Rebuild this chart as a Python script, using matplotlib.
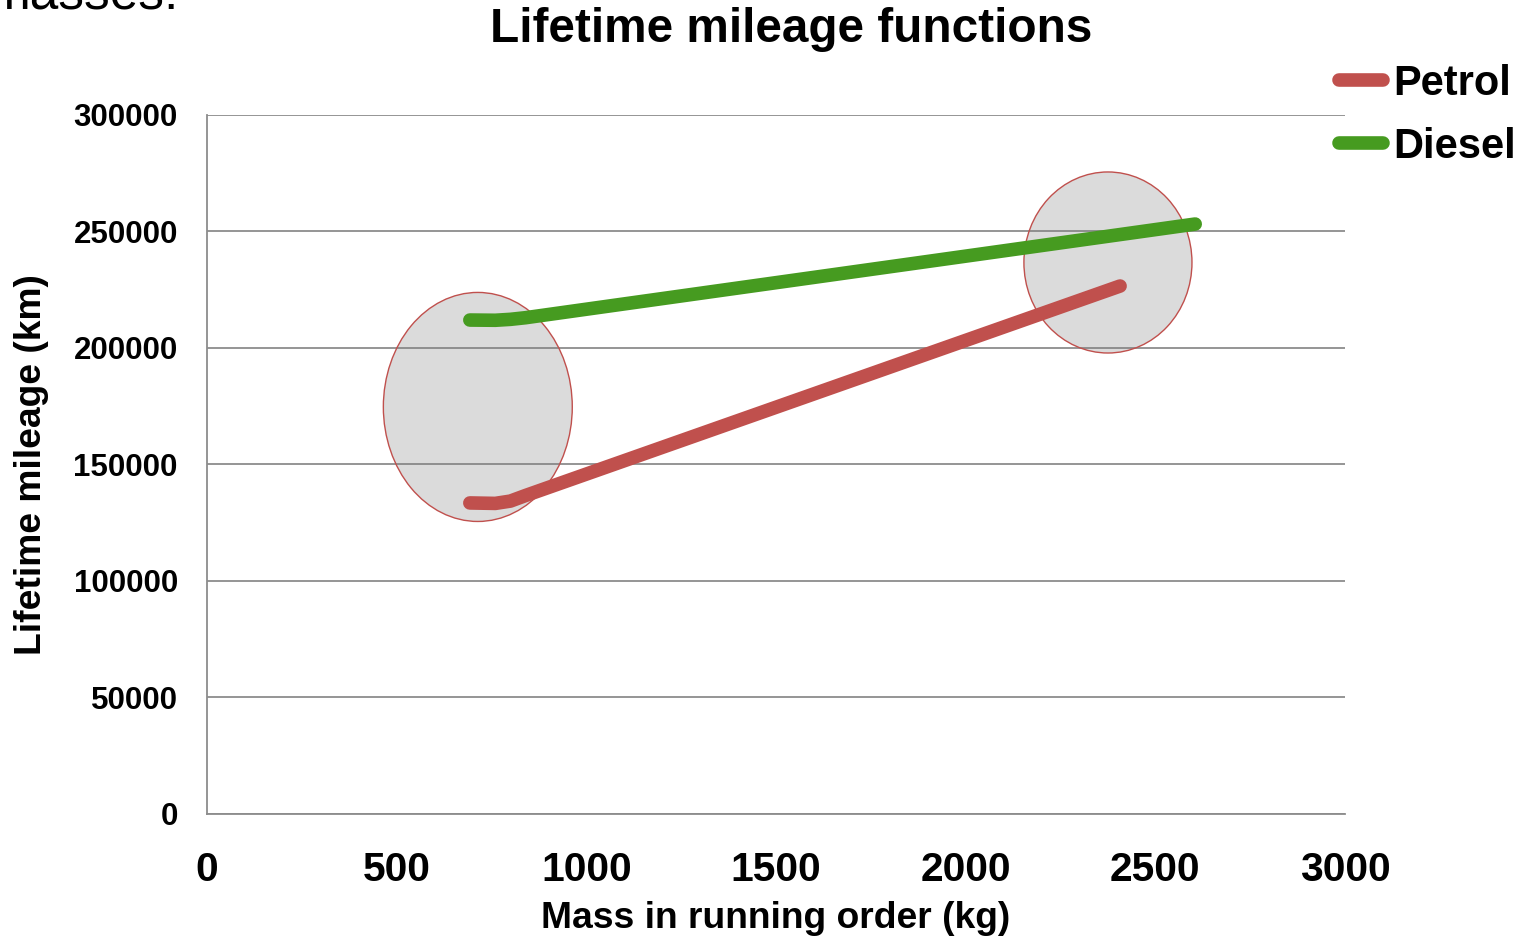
import matplotlib
matplotlib.use("Agg")
import matplotlib.pyplot as plt
from matplotlib.patches import Ellipse

plt.rcParams["font.family"] = ["Liberation Sans", "DejaVu Sans"]

# values
petrol_mass = [693, 760, 800, 840, 2407]
petrol_km = [133500, 133300, 134300, 136700, 226600]
diesel_mass = [693, 760, 800, 840, 2605]
diesel_km = [212000, 211900, 212300, 213000, 253200]

# grey highlight ellipses: (centre mass, centre km, width kg, height km)
ellipses = [(714, 174700, 498, 98300), (2375, 236700, 443, 77700)]

x_ticks = [0, 500, 1000, 1500, 2000, 2500, 3000]
y_ticks = [0, 50000, 100000, 150000, 200000, 250000, 300000]

RED = "#C0504D"
GREEN = "#469B20"
GRID = "#8c8c8c"

fig = plt.figure(figsize=(15.25, 9.38), dpi=100)
ax = fig.add_axes([0.1357, 0.1322, 0.7463, 0.7452])

for cx, cy, w, h in ellipses:
    ax.add_patch(Ellipse((cx, cy), w, h, facecolor=(0.5, 0.5, 0.5, 0.28),
                         edgecolor=RED, linewidth=1.0, zorder=2))

ax.plot(petrol_mass, petrol_km, color=RED, lw=9.8, solid_capstyle="round",
        solid_joinstyle="round", label="Petrol", zorder=3)
ax.plot(diesel_mass, diesel_km, color=GREEN, lw=9.8, solid_capstyle="round",
        solid_joinstyle="round", label="Diesel", zorder=3)

ax.set_xlim(0, 3000)
ax.set_ylim(0, 300000)
ax.set_xticks(x_ticks)
ax.set_xticklabels([str(v) for v in x_ticks])
ax.set_yticks(y_ticks)
ax.set_yticklabels([str(v) for v in y_ticks])
ax.tick_params(axis="x", length=0, pad=27, labelsize=29.3)
ax.tick_params(axis="y", length=0, pad=21, labelsize=22.5)
for lab in ax.get_xticklabels() + ax.get_yticklabels():
    lab.set_fontweight("bold")

ax.grid(axis="y", color=GRID, lw=1.3)
ax.set_axisbelow(True)
for side in ("top", "right"):
    ax.spines[side].set_visible(False)
for side in ("left", "bottom"):
    ax.spines[side].set_color(GRID)
    ax.spines[side].set_linewidth(1.3)

ax.set_xlabel("Mass in running order (kg)", fontsize=26.8, fontweight="bold",
              va="center")
ax.xaxis.set_label_coords(0.4996, -0.149)
ax.set_ylabel("Lifetime mileage (km)", fontsize=26.8, fontweight="bold",
              va="center")
ax.yaxis.set_label_coords(-0.1538, 0.4993)

fig.text(0.519, 1 - 30 / 938, "Lifetime mileage functions", fontsize=34.4,
         fontweight="bold", ha="center", va="center")

# bit of surrounding document text cut off at the top edge
fig.text(-0.008, 1 - 9 / 938, "masses:", fontsize=37, ha="left",
         va="baseline")

ax.legend(loc="upper left", bbox_to_anchor=(1339 / 1525, 1 - 64 / 938),
          bbox_transform=fig.transFigure, frameon=False,
          handlelength=1.05, handletextpad=0.25, labelspacing=0.55,
          borderpad=0, borderaxespad=0,
          prop={"size": 30, "weight": "bold"})

fig.savefig("out.png", dpi=100)
